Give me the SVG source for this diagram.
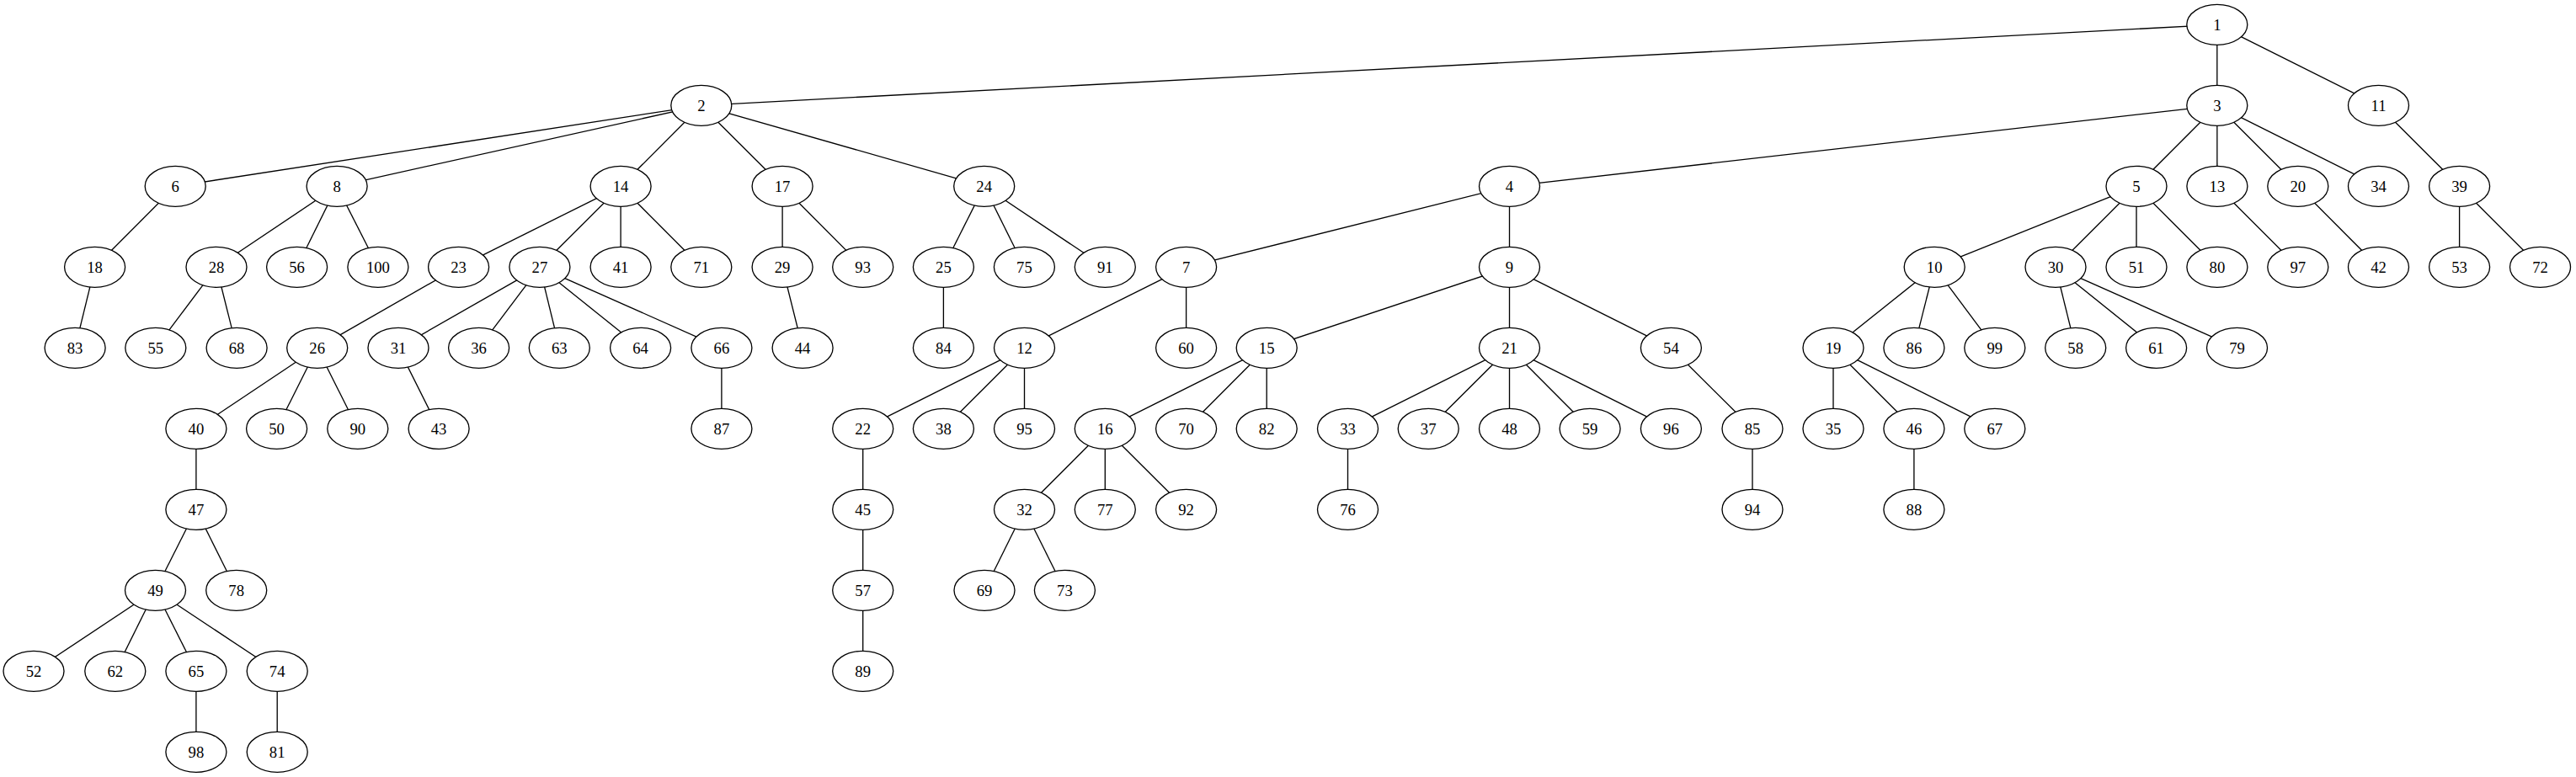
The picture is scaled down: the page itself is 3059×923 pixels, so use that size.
<svg xmlns="http://www.w3.org/2000/svg" width="3059" height="923" viewBox="0 0 3059 923">
<style>
.n ellipse{fill:#fff;stroke:#000;stroke-width:1.33}
.n text{font-family:"Liberation Serif","Times New Roman",serif;font-size:18.67px;text-anchor:middle;fill:#000}
#edges line{stroke:#000;stroke-width:1.33}
</style>
<rect width="3059" height="923" fill="#fff"/>
<g id="edges">
<line x1="2632.8" y1="29.3" x2="832.8" y2="125.3"/>
<line x1="2632.8" y1="29.3" x2="2632.8" y2="125.3"/>
<line x1="2632.8" y1="29.3" x2="2824.5" y2="125.3"/>
<line x1="832.8" y1="125.3" x2="208.2" y2="221.3"/>
<line x1="832.8" y1="125.3" x2="400.1" y2="221.3"/>
<line x1="832.8" y1="125.3" x2="737.1" y2="221.3"/>
<line x1="832.8" y1="125.3" x2="929.1" y2="221.3"/>
<line x1="832.8" y1="125.3" x2="1168.7" y2="221.3"/>
<line x1="2632.8" y1="125.3" x2="1792.5" y2="221.3"/>
<line x1="2632.8" y1="125.3" x2="2537" y2="221.3"/>
<line x1="2632.8" y1="125.3" x2="2632.9" y2="221.3"/>
<line x1="2632.8" y1="125.3" x2="2728.8" y2="221.3"/>
<line x1="2632.8" y1="125.3" x2="2824.5" y2="221.3"/>
<line x1="2824.5" y1="125.3" x2="2920.6" y2="221.3"/>
<line x1="208.2" y1="221.3" x2="112.6" y2="317.3"/>
<line x1="400.1" y1="221.3" x2="257" y2="317.3"/>
<line x1="400.1" y1="221.3" x2="352.6" y2="317.3"/>
<line x1="400.1" y1="221.3" x2="448.9" y2="317.3"/>
<line x1="737.1" y1="221.3" x2="544.6" y2="317.3"/>
<line x1="737.1" y1="221.3" x2="640.9" y2="317.3"/>
<line x1="737.1" y1="221.3" x2="737.1" y2="317.3"/>
<line x1="737.1" y1="221.3" x2="832.8" y2="317.3"/>
<line x1="929.1" y1="221.3" x2="929.1" y2="317.3"/>
<line x1="929.1" y1="221.3" x2="1024.7" y2="317.3"/>
<line x1="1168.7" y1="221.3" x2="1120.4" y2="317.3"/>
<line x1="1168.7" y1="221.3" x2="1216.4" y2="317.3"/>
<line x1="1168.7" y1="221.3" x2="1312.3" y2="317.3"/>
<line x1="1792.5" y1="221.3" x2="1408.6" y2="317.3"/>
<line x1="1792.5" y1="221.3" x2="1792.5" y2="317.3"/>
<line x1="2537" y1="221.3" x2="2297.2" y2="317.3"/>
<line x1="2537" y1="221.3" x2="2441" y2="317.3"/>
<line x1="2537" y1="221.3" x2="2537" y2="317.3"/>
<line x1="2537" y1="221.3" x2="2632.9" y2="317.3"/>
<line x1="2632.9" y1="221.3" x2="2728.8" y2="317.3"/>
<line x1="2728.8" y1="221.3" x2="2824.5" y2="317.3"/>
<line x1="2920.6" y1="221.3" x2="2920.6" y2="317.3"/>
<line x1="2920.6" y1="221.3" x2="3016.5" y2="317.3"/>
<line x1="112.6" y1="317.3" x2="89.1" y2="413.3"/>
<line x1="257" y1="317.3" x2="184.8" y2="413.3"/>
<line x1="257" y1="317.3" x2="281.1" y2="413.3"/>
<line x1="544.6" y1="317.3" x2="376.7" y2="413.3"/>
<line x1="640.9" y1="317.3" x2="473" y2="413.3"/>
<line x1="640.9" y1="317.3" x2="568.6" y2="413.3"/>
<line x1="640.9" y1="317.3" x2="664.3" y2="413.3"/>
<line x1="640.9" y1="317.3" x2="760.6" y2="413.3"/>
<line x1="640.9" y1="317.3" x2="856.9" y2="413.3"/>
<line x1="929.1" y1="317.3" x2="953.1" y2="413.3"/>
<line x1="1120.4" y1="317.3" x2="1120.4" y2="413.3"/>
<line x1="1408.6" y1="317.3" x2="1216.5" y2="413.3"/>
<line x1="1408.6" y1="317.3" x2="1408.6" y2="413.3"/>
<line x1="1792.5" y1="317.3" x2="1504.2" y2="413.3"/>
<line x1="1792.5" y1="317.3" x2="1792.5" y2="413.3"/>
<line x1="1792.5" y1="317.3" x2="1984.4" y2="413.3"/>
<line x1="2297.2" y1="317.3" x2="2177" y2="413.3"/>
<line x1="2297.2" y1="317.3" x2="2272.9" y2="413.3"/>
<line x1="2297.2" y1="317.3" x2="2368.8" y2="413.3"/>
<line x1="2441" y1="317.3" x2="2464.7" y2="413.3"/>
<line x1="2441" y1="317.3" x2="2560.6" y2="413.3"/>
<line x1="2441" y1="317.3" x2="2656.5" y2="413.3"/>
<line x1="376.7" y1="413.3" x2="232.9" y2="509.3"/>
<line x1="376.7" y1="413.3" x2="328.6" y2="509.3"/>
<line x1="376.7" y1="413.3" x2="424.8" y2="509.3"/>
<line x1="473" y1="413.3" x2="521.1" y2="509.3"/>
<line x1="856.9" y1="413.3" x2="856.9" y2="509.3"/>
<line x1="1216.5" y1="413.3" x2="1024.7" y2="509.3"/>
<line x1="1216.5" y1="413.3" x2="1120.4" y2="509.3"/>
<line x1="1216.5" y1="413.3" x2="1216.5" y2="509.3"/>
<line x1="1504.2" y1="413.3" x2="1312.3" y2="509.3"/>
<line x1="1504.2" y1="413.3" x2="1408.6" y2="509.3"/>
<line x1="1504.2" y1="413.3" x2="1504.2" y2="509.3"/>
<line x1="1792.5" y1="413.3" x2="1600.5" y2="509.3"/>
<line x1="1792.5" y1="413.3" x2="1696.2" y2="509.3"/>
<line x1="1792.5" y1="413.3" x2="1792.5" y2="509.3"/>
<line x1="1792.5" y1="413.3" x2="1888.1" y2="509.3"/>
<line x1="1792.5" y1="413.3" x2="1984.4" y2="509.3"/>
<line x1="1984.4" y1="413.3" x2="2081" y2="509.3"/>
<line x1="2177" y1="413.3" x2="2177" y2="509.3"/>
<line x1="2177" y1="413.3" x2="2272.9" y2="509.3"/>
<line x1="2177" y1="413.3" x2="2368.8" y2="509.3"/>
<line x1="232.9" y1="509.3" x2="232.9" y2="605.3"/>
<line x1="1024.7" y1="509.3" x2="1024.7" y2="605.3"/>
<line x1="1312.3" y1="509.3" x2="1216.5" y2="605.3"/>
<line x1="1312.3" y1="509.3" x2="1312.3" y2="605.3"/>
<line x1="1312.3" y1="509.3" x2="1408.6" y2="605.3"/>
<line x1="1600.5" y1="509.3" x2="1600.5" y2="605.3"/>
<line x1="2081" y1="509.3" x2="2081" y2="605.3"/>
<line x1="2272.9" y1="509.3" x2="2272.9" y2="605.3"/>
<line x1="232.9" y1="605.3" x2="184.5" y2="701.3"/>
<line x1="232.9" y1="605.3" x2="280.7" y2="701.3"/>
<line x1="1024.7" y1="605.3" x2="1024.7" y2="701.3"/>
<line x1="1216.5" y1="605.3" x2="1169" y2="701.3"/>
<line x1="1216.5" y1="605.3" x2="1264.4" y2="701.3"/>
<line x1="184.5" y1="701.3" x2="40" y2="797.3"/>
<line x1="184.5" y1="701.3" x2="136.8" y2="797.3"/>
<line x1="184.5" y1="701.3" x2="232.9" y2="797.3"/>
<line x1="184.5" y1="701.3" x2="329.2" y2="797.3"/>
<line x1="1024.7" y1="701.3" x2="1024.7" y2="797.3"/>
<line x1="232.9" y1="797.3" x2="232.9" y2="893.3"/>
<line x1="329.2" y1="797.3" x2="329.2" y2="893.3"/>
</g>
<g class="n" id="node1"><ellipse cx="2632.8" cy="29.3" rx="36" ry="24"/><text x="2632.8" y="35.5">1</text></g>
<g class="n" id="node2"><ellipse cx="832.8" cy="125.3" rx="36" ry="24"/><text x="832.8" y="131.5">2</text></g>
<g class="n" id="node3"><ellipse cx="2632.8" cy="125.3" rx="36" ry="24"/><text x="2632.8" y="131.5">3</text></g>
<g class="n" id="node11"><ellipse cx="2824.5" cy="125.3" rx="36" ry="24"/><text x="2824.5" y="131.5">11</text></g>
<g class="n" id="node6"><ellipse cx="208.2" cy="221.3" rx="36" ry="24"/><text x="208.2" y="227.5">6</text></g>
<g class="n" id="node8"><ellipse cx="400.1" cy="221.3" rx="36" ry="24"/><text x="400.1" y="227.5">8</text></g>
<g class="n" id="node14"><ellipse cx="737.1" cy="221.3" rx="36" ry="24"/><text x="737.1" y="227.5">14</text></g>
<g class="n" id="node17"><ellipse cx="929.1" cy="221.3" rx="36" ry="24"/><text x="929.1" y="227.5">17</text></g>
<g class="n" id="node24"><ellipse cx="1168.7" cy="221.3" rx="36" ry="24"/><text x="1168.7" y="227.5">24</text></g>
<g class="n" id="node4"><ellipse cx="1792.5" cy="221.3" rx="36" ry="24"/><text x="1792.5" y="227.5">4</text></g>
<g class="n" id="node5"><ellipse cx="2537" cy="221.3" rx="36" ry="24"/><text x="2537" y="227.5">5</text></g>
<g class="n" id="node13"><ellipse cx="2632.9" cy="221.3" rx="36" ry="24"/><text x="2632.9" y="227.5">13</text></g>
<g class="n" id="node20"><ellipse cx="2728.8" cy="221.3" rx="36" ry="24"/><text x="2728.8" y="227.5">20</text></g>
<g class="n" id="node34"><ellipse cx="2824.5" cy="221.3" rx="36" ry="24"/><text x="2824.5" y="227.5">34</text></g>
<g class="n" id="node39"><ellipse cx="2920.6" cy="221.3" rx="36" ry="24"/><text x="2920.6" y="227.5">39</text></g>
<g class="n" id="node18"><ellipse cx="112.6" cy="317.3" rx="36" ry="24"/><text x="112.6" y="323.5">18</text></g>
<g class="n" id="node28"><ellipse cx="257" cy="317.3" rx="36" ry="24"/><text x="257" y="323.5">28</text></g>
<g class="n" id="node56"><ellipse cx="352.6" cy="317.3" rx="36" ry="24"/><text x="352.6" y="323.5">56</text></g>
<g class="n" id="node100"><ellipse cx="448.9" cy="317.3" rx="36" ry="24"/><text x="448.9" y="323.5">100</text></g>
<g class="n" id="node23"><ellipse cx="544.6" cy="317.3" rx="36" ry="24"/><text x="544.6" y="323.5">23</text></g>
<g class="n" id="node27"><ellipse cx="640.9" cy="317.3" rx="36" ry="24"/><text x="640.9" y="323.5">27</text></g>
<g class="n" id="node41"><ellipse cx="737.1" cy="317.3" rx="36" ry="24"/><text x="737.1" y="323.5">41</text></g>
<g class="n" id="node71"><ellipse cx="832.8" cy="317.3" rx="36" ry="24"/><text x="832.8" y="323.5">71</text></g>
<g class="n" id="node29"><ellipse cx="929.1" cy="317.3" rx="36" ry="24"/><text x="929.1" y="323.5">29</text></g>
<g class="n" id="node93"><ellipse cx="1024.7" cy="317.3" rx="36" ry="24"/><text x="1024.7" y="323.5">93</text></g>
<g class="n" id="node25"><ellipse cx="1120.4" cy="317.3" rx="36" ry="24"/><text x="1120.4" y="323.5">25</text></g>
<g class="n" id="node75"><ellipse cx="1216.4" cy="317.3" rx="36" ry="24"/><text x="1216.4" y="323.5">75</text></g>
<g class="n" id="node91"><ellipse cx="1312.3" cy="317.3" rx="36" ry="24"/><text x="1312.3" y="323.5">91</text></g>
<g class="n" id="node7"><ellipse cx="1408.6" cy="317.3" rx="36" ry="24"/><text x="1408.6" y="323.5">7</text></g>
<g class="n" id="node9"><ellipse cx="1792.5" cy="317.3" rx="36" ry="24"/><text x="1792.5" y="323.5">9</text></g>
<g class="n" id="node10"><ellipse cx="2297.2" cy="317.3" rx="36" ry="24"/><text x="2297.2" y="323.5">10</text></g>
<g class="n" id="node30"><ellipse cx="2441" cy="317.3" rx="36" ry="24"/><text x="2441" y="323.5">30</text></g>
<g class="n" id="node51"><ellipse cx="2537" cy="317.3" rx="36" ry="24"/><text x="2537" y="323.5">51</text></g>
<g class="n" id="node80"><ellipse cx="2632.9" cy="317.3" rx="36" ry="24"/><text x="2632.9" y="323.5">80</text></g>
<g class="n" id="node97"><ellipse cx="2728.8" cy="317.3" rx="36" ry="24"/><text x="2728.8" y="323.5">97</text></g>
<g class="n" id="node42"><ellipse cx="2824.5" cy="317.3" rx="36" ry="24"/><text x="2824.5" y="323.5">42</text></g>
<g class="n" id="node53"><ellipse cx="2920.6" cy="317.3" rx="36" ry="24"/><text x="2920.6" y="323.5">53</text></g>
<g class="n" id="node72"><ellipse cx="3016.5" cy="317.3" rx="36" ry="24"/><text x="3016.5" y="323.5">72</text></g>
<g class="n" id="node83"><ellipse cx="89.1" cy="413.3" rx="36" ry="24"/><text x="89.1" y="419.5">83</text></g>
<g class="n" id="node55"><ellipse cx="184.8" cy="413.3" rx="36" ry="24"/><text x="184.8" y="419.5">55</text></g>
<g class="n" id="node68"><ellipse cx="281.1" cy="413.3" rx="36" ry="24"/><text x="281.1" y="419.5">68</text></g>
<g class="n" id="node26"><ellipse cx="376.7" cy="413.3" rx="36" ry="24"/><text x="376.7" y="419.5">26</text></g>
<g class="n" id="node31"><ellipse cx="473" cy="413.3" rx="36" ry="24"/><text x="473" y="419.5">31</text></g>
<g class="n" id="node36"><ellipse cx="568.6" cy="413.3" rx="36" ry="24"/><text x="568.6" y="419.5">36</text></g>
<g class="n" id="node63"><ellipse cx="664.3" cy="413.3" rx="36" ry="24"/><text x="664.3" y="419.5">63</text></g>
<g class="n" id="node64"><ellipse cx="760.6" cy="413.3" rx="36" ry="24"/><text x="760.6" y="419.5">64</text></g>
<g class="n" id="node66"><ellipse cx="856.9" cy="413.3" rx="36" ry="24"/><text x="856.9" y="419.5">66</text></g>
<g class="n" id="node44"><ellipse cx="953.1" cy="413.3" rx="36" ry="24"/><text x="953.1" y="419.5">44</text></g>
<g class="n" id="node84"><ellipse cx="1120.4" cy="413.3" rx="36" ry="24"/><text x="1120.4" y="419.5">84</text></g>
<g class="n" id="node12"><ellipse cx="1216.5" cy="413.3" rx="36" ry="24"/><text x="1216.5" y="419.5">12</text></g>
<g class="n" id="node60"><ellipse cx="1408.6" cy="413.3" rx="36" ry="24"/><text x="1408.6" y="419.5">60</text></g>
<g class="n" id="node15"><ellipse cx="1504.2" cy="413.3" rx="36" ry="24"/><text x="1504.2" y="419.5">15</text></g>
<g class="n" id="node21"><ellipse cx="1792.5" cy="413.3" rx="36" ry="24"/><text x="1792.5" y="419.5">21</text></g>
<g class="n" id="node54"><ellipse cx="1984.4" cy="413.3" rx="36" ry="24"/><text x="1984.4" y="419.5">54</text></g>
<g class="n" id="node19"><ellipse cx="2177" cy="413.3" rx="36" ry="24"/><text x="2177" y="419.5">19</text></g>
<g class="n" id="node86"><ellipse cx="2272.9" cy="413.3" rx="36" ry="24"/><text x="2272.9" y="419.5">86</text></g>
<g class="n" id="node99"><ellipse cx="2368.8" cy="413.3" rx="36" ry="24"/><text x="2368.8" y="419.5">99</text></g>
<g class="n" id="node58"><ellipse cx="2464.7" cy="413.3" rx="36" ry="24"/><text x="2464.7" y="419.5">58</text></g>
<g class="n" id="node61"><ellipse cx="2560.6" cy="413.3" rx="36" ry="24"/><text x="2560.6" y="419.5">61</text></g>
<g class="n" id="node79"><ellipse cx="2656.5" cy="413.3" rx="36" ry="24"/><text x="2656.5" y="419.5">79</text></g>
<g class="n" id="node40"><ellipse cx="232.9" cy="509.3" rx="36" ry="24"/><text x="232.9" y="515.5">40</text></g>
<g class="n" id="node50"><ellipse cx="328.6" cy="509.3" rx="36" ry="24"/><text x="328.6" y="515.5">50</text></g>
<g class="n" id="node90"><ellipse cx="424.8" cy="509.3" rx="36" ry="24"/><text x="424.8" y="515.5">90</text></g>
<g class="n" id="node43"><ellipse cx="521.1" cy="509.3" rx="36" ry="24"/><text x="521.1" y="515.5">43</text></g>
<g class="n" id="node87"><ellipse cx="856.9" cy="509.3" rx="36" ry="24"/><text x="856.9" y="515.5">87</text></g>
<g class="n" id="node22"><ellipse cx="1024.7" cy="509.3" rx="36" ry="24"/><text x="1024.7" y="515.5">22</text></g>
<g class="n" id="node38"><ellipse cx="1120.4" cy="509.3" rx="36" ry="24"/><text x="1120.4" y="515.5">38</text></g>
<g class="n" id="node95"><ellipse cx="1216.5" cy="509.3" rx="36" ry="24"/><text x="1216.5" y="515.5">95</text></g>
<g class="n" id="node16"><ellipse cx="1312.3" cy="509.3" rx="36" ry="24"/><text x="1312.3" y="515.5">16</text></g>
<g class="n" id="node70"><ellipse cx="1408.6" cy="509.3" rx="36" ry="24"/><text x="1408.6" y="515.5">70</text></g>
<g class="n" id="node82"><ellipse cx="1504.2" cy="509.3" rx="36" ry="24"/><text x="1504.2" y="515.5">82</text></g>
<g class="n" id="node33"><ellipse cx="1600.5" cy="509.3" rx="36" ry="24"/><text x="1600.5" y="515.5">33</text></g>
<g class="n" id="node37"><ellipse cx="1696.2" cy="509.3" rx="36" ry="24"/><text x="1696.2" y="515.5">37</text></g>
<g class="n" id="node48"><ellipse cx="1792.5" cy="509.3" rx="36" ry="24"/><text x="1792.5" y="515.5">48</text></g>
<g class="n" id="node59"><ellipse cx="1888.1" cy="509.3" rx="36" ry="24"/><text x="1888.1" y="515.5">59</text></g>
<g class="n" id="node96"><ellipse cx="1984.4" cy="509.3" rx="36" ry="24"/><text x="1984.4" y="515.5">96</text></g>
<g class="n" id="node85"><ellipse cx="2081" cy="509.3" rx="36" ry="24"/><text x="2081" y="515.5">85</text></g>
<g class="n" id="node35"><ellipse cx="2177" cy="509.3" rx="36" ry="24"/><text x="2177" y="515.5">35</text></g>
<g class="n" id="node46"><ellipse cx="2272.9" cy="509.3" rx="36" ry="24"/><text x="2272.9" y="515.5">46</text></g>
<g class="n" id="node67"><ellipse cx="2368.8" cy="509.3" rx="36" ry="24"/><text x="2368.8" y="515.5">67</text></g>
<g class="n" id="node47"><ellipse cx="232.9" cy="605.3" rx="36" ry="24"/><text x="232.9" y="611.5">47</text></g>
<g class="n" id="node45"><ellipse cx="1024.7" cy="605.3" rx="36" ry="24"/><text x="1024.7" y="611.5">45</text></g>
<g class="n" id="node32"><ellipse cx="1216.5" cy="605.3" rx="36" ry="24"/><text x="1216.5" y="611.5">32</text></g>
<g class="n" id="node77"><ellipse cx="1312.3" cy="605.3" rx="36" ry="24"/><text x="1312.3" y="611.5">77</text></g>
<g class="n" id="node92"><ellipse cx="1408.6" cy="605.3" rx="36" ry="24"/><text x="1408.6" y="611.5">92</text></g>
<g class="n" id="node76"><ellipse cx="1600.5" cy="605.3" rx="36" ry="24"/><text x="1600.5" y="611.5">76</text></g>
<g class="n" id="node94"><ellipse cx="2081" cy="605.3" rx="36" ry="24"/><text x="2081" y="611.5">94</text></g>
<g class="n" id="node88"><ellipse cx="2272.9" cy="605.3" rx="36" ry="24"/><text x="2272.9" y="611.5">88</text></g>
<g class="n" id="node49"><ellipse cx="184.5" cy="701.3" rx="36" ry="24"/><text x="184.5" y="707.5">49</text></g>
<g class="n" id="node78"><ellipse cx="280.7" cy="701.3" rx="36" ry="24"/><text x="280.7" y="707.5">78</text></g>
<g class="n" id="node57"><ellipse cx="1024.7" cy="701.3" rx="36" ry="24"/><text x="1024.7" y="707.5">57</text></g>
<g class="n" id="node69"><ellipse cx="1169" cy="701.3" rx="36" ry="24"/><text x="1169" y="707.5">69</text></g>
<g class="n" id="node73"><ellipse cx="1264.4" cy="701.3" rx="36" ry="24"/><text x="1264.4" y="707.5">73</text></g>
<g class="n" id="node52"><ellipse cx="40" cy="797.3" rx="36" ry="24"/><text x="40" y="803.5">52</text></g>
<g class="n" id="node62"><ellipse cx="136.8" cy="797.3" rx="36" ry="24"/><text x="136.8" y="803.5">62</text></g>
<g class="n" id="node65"><ellipse cx="232.9" cy="797.3" rx="36" ry="24"/><text x="232.9" y="803.5">65</text></g>
<g class="n" id="node74"><ellipse cx="329.2" cy="797.3" rx="36" ry="24"/><text x="329.2" y="803.5">74</text></g>
<g class="n" id="node89"><ellipse cx="1024.7" cy="797.3" rx="36" ry="24"/><text x="1024.7" y="803.5">89</text></g>
<g class="n" id="node98"><ellipse cx="232.9" cy="893.3" rx="36" ry="24"/><text x="232.9" y="899.5">98</text></g>
<g class="n" id="node81"><ellipse cx="329.2" cy="893.3" rx="36" ry="24"/><text x="329.2" y="899.5">81</text></g>
</svg>
